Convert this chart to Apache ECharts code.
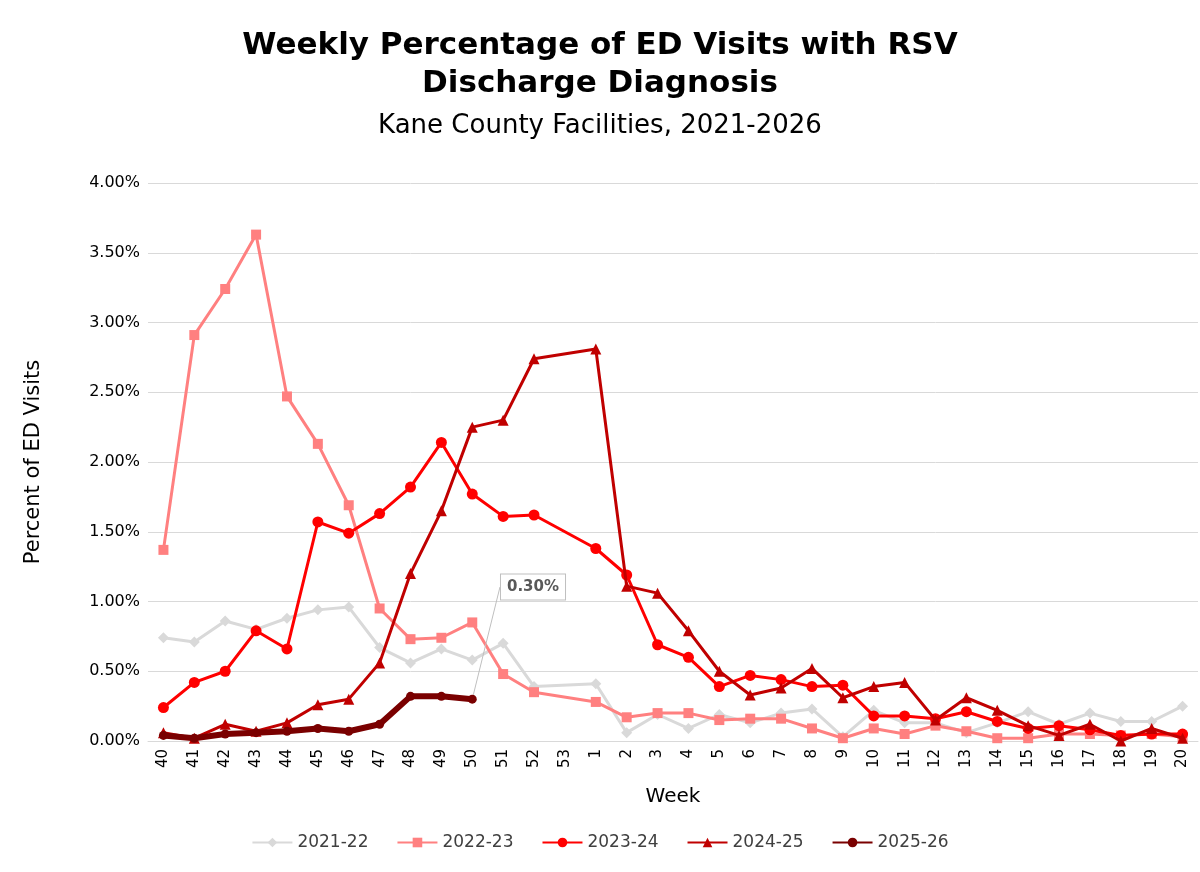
<!DOCTYPE html>
<html>
<head>
<meta charset="utf-8">
<title>RSV</title>
<script src="https://cdn.jsdelivr.net/npm/echarts@6/dist/echarts.min.js"></script>
<style>
    html, body { margin: 0; padding: 0; background: #fff; }
    #main { width: 1200px; height: 872px; }
</style>
</head>
<body>
<div id="main"></div>
<script>
    // weeks 40..53, 1..20 (week 53 has no data, line connects across it)
    var weeks = ['40','41','42','43','44','45','46','47','48','49','50','51','52','53',
        '1','2','3','4','5','6','7','8','9','10','11','12','13','14','15','16','17','18','19','20'];
    var s2122 = [0.74,0.71,0.86,0.80,0.88,0.94,0.96,0.67,0.56,0.66,0.58,0.70,0.39,null,
        0.41,0.06,0.19,0.09,0.19,0.13,0.20,0.23,0.03,0.22,0.13,0.13,0.06,0.13,0.21,0.12,0.20,0.14,0.14,0.25];
    var s2223 = [1.37,2.91,3.24,3.63,2.47,2.13,1.69,0.95,0.73,0.74,0.85,0.48,0.35,null,
        0.28,0.17,0.20,0.20,0.15,0.16,0.16,0.09,0.02,0.09,0.05,0.11,0.07,0.02,0.02,0.05,0.05,0.04,0.05,0.03];
    var s2324 = [0.24,0.42,0.50,0.79,0.66,1.57,1.49,1.63,1.82,2.14,1.77,1.61,1.62,null,
        1.38,1.19,0.69,0.60,0.39,0.47,0.44,0.39,0.40,0.18,0.18,0.16,0.21,0.14,0.09,0.11,0.08,0.04,0.05,0.05];
    var s2425 = [0.06,0.02,0.12,0.07,0.13,0.26,0.30,0.56,1.20,1.65,2.25,2.30,2.74,null,
        2.81,1.11,1.06,0.79,0.50,0.33,0.38,0.52,0.31,0.39,0.42,0.15,0.31,0.22,0.11,0.04,0.12,0.00,0.09,0.02];
    var s2526 = [0.04,0.02,0.05,0.06,0.07,0.09,0.07,0.12,0.32,0.32,0.30];

    var font = 'DejaVu Sans';
    function line(name, data, color, symbol, size, width, z) {
        return {
            name: name, type: 'line', data: data, connectNulls: true,
            symbol: symbol, symbolSize: size, z: z,
            lineStyle: { color: color, width: width },
            itemStyle: { color: color }
        };
    }

    var last = line('2025-26', s2526.slice(), '#7a0000', 'circle', 9, 6, 10);
    last.data[last.data.length - 1] = {
        value: s2526[s2526.length - 1],
        label: {
            show: true, formatter: function (p) { return p.value.toFixed(2) + '%'; },
            color: '#595959', fontWeight: 'bold', fontSize: 15, fontFamily: font,
            backgroundColor: '#fff', borderColor: '#bfbfbf', borderWidth: 1, padding: [5, 6]
        },
        labelLine: { show: true, lineStyle: { color: '#bfbfbf', width: 1 } }
    };
    last.labelLayout = function (p) {
        if (p.dataIndex === s2526.length - 1) return { x: 533, y: 587, align: 'center', verticalAlign: 'middle' };
    };

    var myChart = echarts.init(document.getElementById('main'));
    myChart.setOption({
        animation: false,
        textStyle: { fontFamily: font },
        title: [{
            text: 'Weekly Percentage of ED Visits with RSV\nDischarge Diagnosis',
            left: 'center', top: 22,
            textStyle: { fontFamily: font, fontSize: 31, fontWeight: 'bold', color: '#000', lineHeight: 38 }
        }, {
            text: 'Kane County Facilities, 2021-2026',
            left: 'center', top: 108,
            textStyle: { fontFamily: font, fontSize: 26, fontWeight: 'normal', color: '#000' }
        }],
        legend: {
            bottom: 16, left: 'center', itemWidth: 40, itemHeight: 12, itemGap: 28,
            textStyle: { fontFamily: font, fontSize: 17, color: '#404040' },
            data: ['2021-22','2022-23','2023-24','2024-25','2025-26']
        },
        grid: { left: 148, top: 183, width: 1050, height: 558 },
        xAxis: {
            type: 'category', data: weeks, boundaryGap: true,
            name: 'Week', nameLocation: 'middle', nameGap: 46,
            nameTextStyle: { fontFamily: font, fontSize: 20, color: '#000' },
            axisTick: { show: false },
            axisLine: { lineStyle: { color: '#d9d9d9' } },
            axisLabel: { rotate: 90, interval: 0, fontSize: 15, color: '#000', fontFamily: font }
        },
        yAxis: {
            type: 'value', min: 0, max: 4, interval: 0.5,
            name: 'Percent of ED Visits', nameLocation: 'middle', nameGap: 104,
            nameTextStyle: { fontFamily: font, fontSize: 21, color: '#000' },
            axisLabel: { formatter: function (v) { return v.toFixed(2) + '%'; }, fontSize: 16, color: '#000', fontFamily: font },
            splitLine: { lineStyle: { color: '#d9d9d9' } }
        },
        series: [
            line('2021-22', s2122, '#d9d9d9', 'diamond', 11, 3, 2),
            line('2022-23', s2223, '#ff8080', 'rect', 10, 3, 3),
            line('2023-24', s2324, '#ff0000', 'circle', 11, 3, 4),
            line('2024-25', s2425, '#c00000', 'triangle', 11, 3, 5),
            last
        ]
    });
</script>
</body>
</html>
